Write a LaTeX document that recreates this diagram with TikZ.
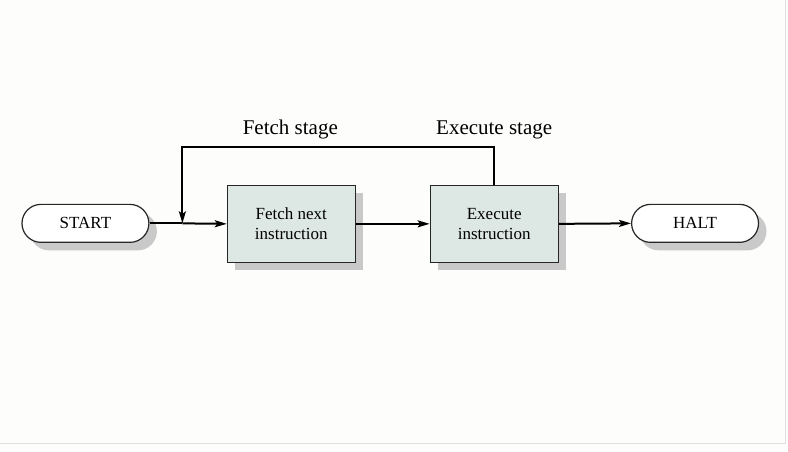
\documentclass[tikz,border=0pt]{standalone}
\usepackage{fontspec}
\setmainfont{Liberation Serif}
\usetikzlibrary{arrows.meta,shadows}
\definecolor{boxfill}{HTML}{DDE8E4}
\definecolor{shadowgray}{HTML}{C9C9C9}
\definecolor{bgcol}{HTML}{FDFDFC}
\begin{document}
\begin{tikzpicture}[x=1pt,y=-1pt,
  pill/.style={draw=black!85,line width=1.2pt,fill=white,rounded corners=19pt,
    minimum width=127pt,minimum height=38pt,inner sep=0pt,font=\fontsize{17}{19}\selectfont,
    drop shadow={shadow xshift=8pt,shadow yshift=-8pt,fill=shadowgray,opacity=1}},
  stepbox/.style={draw=black!85,line width=1.2pt,fill=boxfill,
    minimum width=128pt,minimum height=77pt,inner sep=0pt,align=center,
    font=\fontsize{17}{20}\selectfont,
    drop shadow={shadow xshift=8pt,shadow yshift=-8pt,fill=shadowgray,opacity=1}},
  conn/.style={line width=2pt,-{Stealth[length=12pt,width=7pt,inset=2.5pt]}},
  lbl/.style={font=\fontsize{21}{24}\selectfont}]
\fill[bgcol] (0,0) rectangle (788,451);
\draw[black!12,line width=1pt] (785,0) -- (785,443) -- (0,443);
\useasboundingbox (0,0) rectangle (788,451);
\node[pill] (start) at (85,223) {START};
\node[stepbox] (fetch) at (291,223.5) {Fetch next\\instruction};
\node[stepbox] (exec) at (494,223.5) {Execute\\instruction};
\node[pill] (halt) at (695,223) {HALT};
\coordinate (j) at (182,223);
\coordinate (tl) at (182,147);
\coordinate (tr) at (494,147);
\draw[line width=2pt] (start.east) -- (j);
\draw[conn] (j) -- (fetch.west);
\draw[conn] (fetch.east) -- (exec.west);
\draw[conn] (exec.east) -- (halt.west);
\draw[conn] (exec.north) -- (tr) -- (tl) -- (j);
\node[lbl] (fs) at (290,129) {Fetch stage};
\node[lbl] (es) at (494,129) {Execute stage};
\end{tikzpicture}
\end{document}
